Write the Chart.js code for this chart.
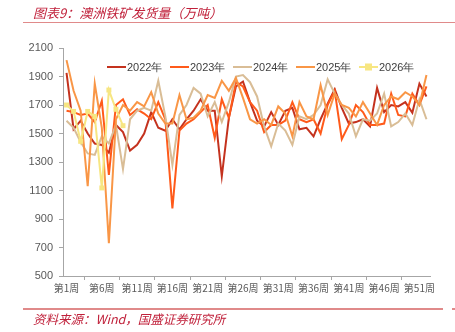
<!DOCTYPE html>
<html><head><meta charset="utf-8">
<script src="https://cdn.jsdelivr.net/npm/chart.js@4.4.1/dist/chart.umd.min.js"></script>
<style>
html,body{margin:0;padding:0;background:#fff;}
#wrap{position:relative;width:455px;height:332px;overflow:hidden;background:#fff;}
#c{position:absolute;left:0;top:0;}
#title{position:absolute;left:33px;top:5px;font:italic 13px "Noto Sans CJK SC",sans-serif;color:#C0203A;white-space:nowrap;line-height:16px;}
#tline{position:absolute;left:23px;top:22px;width:432px;height:1px;background:#E08A8A;}
#bline{position:absolute;left:23px;top:308px;width:420px;height:2px;background:#E08A8A;}
#bline2{position:absolute;left:452px;top:308px;width:3px;height:2px;background:#E08A8A;}
#foot{position:absolute;left:33px;top:310px;font:italic 12.5px "Noto Sans CJK SC",sans-serif;color:#C0203A;white-space:nowrap;line-height:17px;}
</style></head>
<body><div id="wrap">
<canvas id="c" width="455" height="332"></canvas>
<div id="title">图表9：澳洲铁矿发货量（万吨）</div>
<div id="tline"></div>
<div id="bline"></div><div id="bline2"></div>
<div id="foot">资料来源：Wind，国盛证券研究所</div>
</div>
<script>
const categories = ['第1周','第2周','第3周','第4周','第5周','第6周','第7周','第8周','第9周','第10周','第11周','第12周','第13周','第14周','第15周','第16周','第17周','第18周','第19周','第20周','第21周','第22周','第23周','第24周','第25周','第26周','第27周','第28周','第29周','第30周','第31周','第32周','第33周','第34周','第35周','第36周','第37周','第38周','第39周','第40周','第41周','第42周','第43周','第44周','第45周','第46周','第47周','第48周','第49周','第50周','第51周','第52周'];
const seriesNames = ['2022年','2023年','2024年','2025年','2026年'];
const s2022 = [1925,1530,1590,1500,1430,1420,1365,1560,1510,1380,1420,1500,1650,1540,1520,1600,1530,1600,1660,1740,1660,1660,1200,1610,1830,1865,1720,1590,1550,1650,1560,1660,1680,1530,1540,1480,1600,1710,1810,1680,1570,1580,1600,1550,1820,1650,1700,1690,1720,1645,1850,1760];
const s2023 = [1660,1650,1630,1640,1580,1730,1210,1700,1740,1630,1670,1640,1600,1720,1600,975,1520,1570,1600,1650,1700,1470,1740,1610,1860,1830,1720,1660,1510,1560,1560,1590,1720,1600,1580,1600,1500,1700,1800,1460,1560,1700,1650,1560,1560,1570,1780,1630,1620,1780,1700,1830];
const s2024 = [1590,1540,1440,1360,1350,1480,1430,1560,1250,1600,1660,1680,1660,1870,1620,1280,1630,1700,1820,1780,1620,1720,1580,1720,1900,1910,1860,1760,1550,1410,1570,1520,1420,1620,1600,1630,1700,1880,1780,1700,1640,1480,1600,1590,1640,1780,1550,1580,1640,1560,1740,1600];
const s2025 = [2015,1800,1660,1130,1850,1540,730,1600,1700,1660,1720,1690,1790,1640,1570,1570,1770,1600,1610,1660,1770,1750,1870,1800,1890,1750,1600,1570,1600,1560,1690,1640,1480,1720,1620,1600,1840,1630,1780,1700,1680,1620,1720,1640,1560,1700,1760,1740,1790,1760,1700,1910];
const s2026 = [1700,1655,1445,1655,1620,1118,1805,1670,1555];
const yTicks = [500,700,900,1100,1300,1500,1700,1900,2100];
const colors = ['#C4321E','#FF5A1A','#D9BD96','#F99646','#F7E682'];
const allSeries = [s2022,s2023,s2024,s2025,s2026];

const datasets = allSeries.map((d,i)=>({
  label: seriesNames[i],
  data: d,
  borderColor: colors[i],
  backgroundColor: colors[i],
  borderWidth: 2,
  tension: 0,
  pointRadius: i===4 ? 3.5 : 0,
  pointStyle: 'rect',
  pointBorderWidth: 0,
  order: 4 - i
}));

const legendPlugin = {
  id:'customLegend',
  afterDatasetsDraw(chart){
    const ctx = chart.ctx;
    ctx.save();
    ctx.font = '11px "Liberation Sans", Arial, sans-serif';
    ctx.textBaseline = 'middle';
    const y = 67;
    chart.data.datasets.forEach((ds,i)=>{
      const x0 = 107 + i*63;
      ctx.strokeStyle = ds.borderColor;
      ctx.lineWidth = 2;
      ctx.beginPath(); ctx.moveTo(x0,y); ctx.lineTo(x0+19,y); ctx.stroke();
      if (ds.pointRadius > 0) {
        ctx.fillStyle = ds.borderColor;
        ctx.fillRect(x0+9.5-3.5, y-3.5, 7, 7);
      }
      ctx.fillStyle = '#404040';
      ctx.fillText(ds.label, x0+20, y+0.5);
    });
    ctx.restore();
  }
};

new Chart(document.getElementById('c'), {
  type:'line',
  data:{labels:categories, datasets},
  options:{
    responsive:false,
    animation:false,
    devicePixelRatio:1,
    layout:{padding:{top:48,right:25,bottom:26,left:0}},
    plugins:{legend:{display:false},tooltip:{enabled:false}},
    scales:{
      x:{
        type:'category',
        offset:true,
        afterFit(s){ s.height = 30; },
        grid:{display:true, offset:true, drawOnChartArea:false, drawTicks:true, tickLength:4, color:'#A6A6A6'},
        border:{display:true,color:'#A6A6A6',width:1},
        ticks:{
          autoSkip:false, maxRotation:0, minRotation:0, padding:2,
          color:'#595959',
          font:{size:10, family:'"Noto Sans CJK SC", sans-serif'},
          callback(v,i){ return i%5===0 ? categories[i] : null; }
        }
      },
      y:{
        min:500,max:2100,
        afterFit(s){ s.width = 63; },
        afterBuildTicks(s){ s.ticks = yTicks.map(v=>({value:v})); },
        grid:{display:true, drawOnChartArea:false, drawTicks:true, tickLength:4, color:'#A6A6A6'},
        border:{display:true,color:'#A6A6A6',width:1},
        ticks:{color:'#595959', padding:6, font:{size:11, family:'"Liberation Sans", Arial, sans-serif'},
          callback(v){ return String(v); }}
      }
    }
  },
  plugins:[legendPlugin]
});
</script>
</body></html>
